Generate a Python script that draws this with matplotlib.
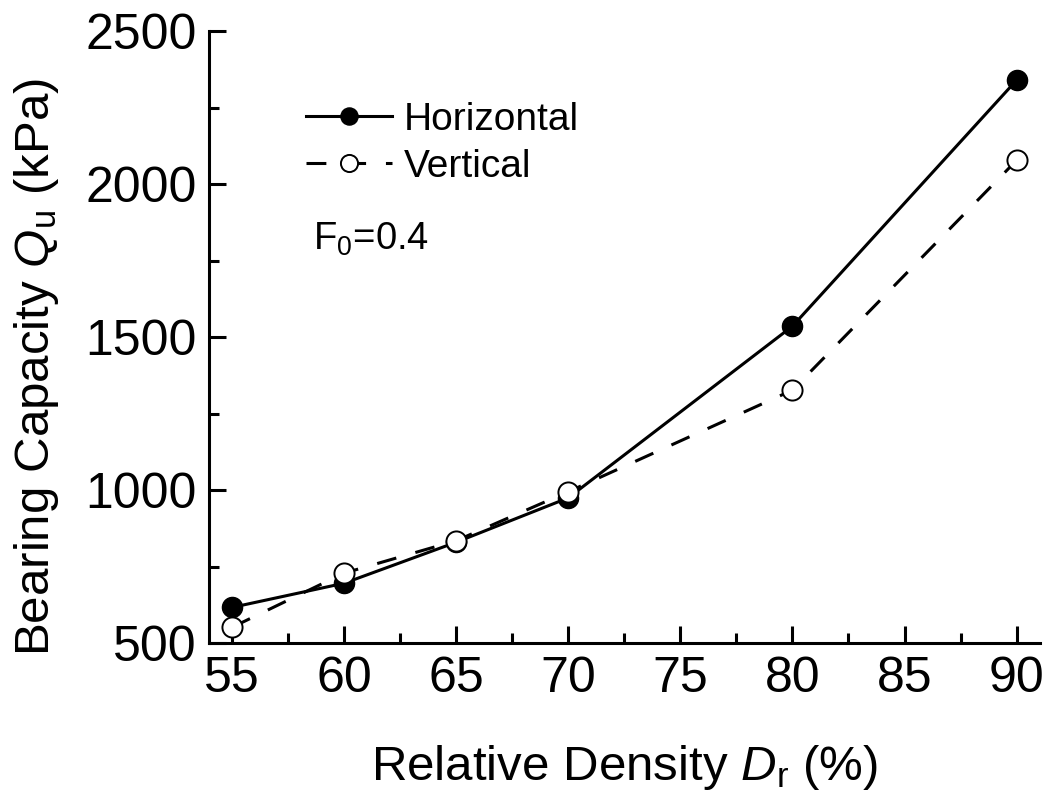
import matplotlib
matplotlib.use('Agg')
import matplotlib.pyplot as plt

plt.rcParams['font.family'] = ['Liberation Sans', 'DejaVu Sans']
plt.rcParams['mathtext.fontset'] = 'custom'
plt.rcParams['mathtext.rm'] = 'Liberation Sans'
plt.rcParams['mathtext.it'] = 'Liberation Sans:italic'

# data
density = [55, 60, 65, 70, 80, 90]
horizontal = [617, 696, 830, 975, 1536, 2340]
vertical = [552, 729, 835, 995, 1327, 2078]

fig = plt.figure(figsize=(10.47, 8), dpi=100)
ax = fig.add_axes([0.1996, 0.196, 0.7934, 0.765])

ax.plot(density, horizontal, '-', color='black', lw=2.2,
        marker='o', ms=14.5, mfc='black', mec='black', label='Horizontal')
ax.plot(density, vertical, '--', color='black', lw=2.2, dashes=(6.5, 6.5),
        marker='o', ms=14.5, mfc='white', mec='black', mew=1.4, label='Vertical')

ax.set_xlim(53.97, 91.03)
ax.set_ylim(500, 2500)
ax.set_xticks([55, 60, 65, 70, 75, 80, 85, 90])
ax.set_xticks([57.5, 62.5, 67.5, 72.5, 77.5, 82.5, 87.5], minor=True)
ax.set_yticks([500, 1000, 1500, 2000, 2500])
ax.set_yticks([750, 1250, 1750, 2250], minor=True)

for side in ['top', 'right']:
    ax.spines[side].set_visible(False)
for side in ['left', 'bottom']:
    ax.spines[side].set_linewidth(2.2)

ax.tick_params(which='major', direction='in', length=12, width=2.2,
               labelsize=36, pad=9)
ax.tick_params(which='minor', direction='in', length=7, width=2.2)

ax.set_xlabel(r'Relative Density $\mathit{D}_\mathrm{r}$ (%)', fontsize=35.5, labelpad=30)
ax.set_ylabel(r'Bearing Capacity $\mathit{Q}_\mathrm{u}$ (kPa)', fontsize=35.5)
ax.yaxis.set_label_coords(-0.178, 0.451)

ax.legend(loc='upper left', bbox_to_anchor=(0.075, 0.942), frameon=False,
          fontsize=28, handlelength=2.2, handletextpad=0.3, labelspacing=0.28,
          markerscale=0.85)

ax.text(0.125, 0.66, r'F$_\mathrm{0}$=0.4', transform=ax.transAxes, fontsize=27.5,
        va='center', ha='left')

fig.savefig('out.png', dpi=100)
